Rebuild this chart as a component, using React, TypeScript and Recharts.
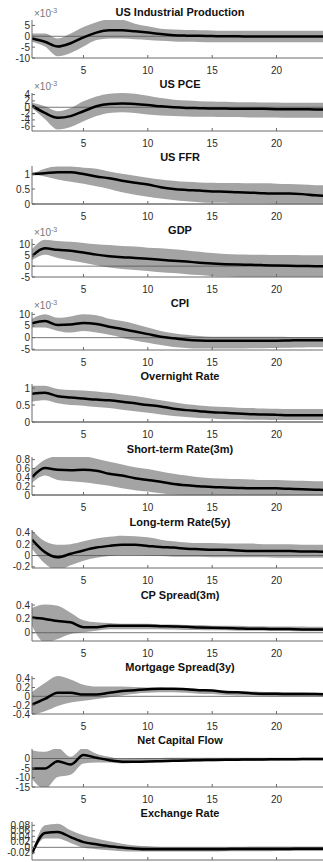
import { ComposedChart, Area, Line, XAxis, YAxis, ReferenceLine } from 'recharts'

// impulse-response horizon (quarters)
const horizon = [1, 2, 3, 4, 5, 6, 7, 8, 9, 10, 11, 12, 13, 14, 15, 16, 17, 18, 19, 20, 21, 22, 23, 24]
const xTicks = [5, 10, 15, 20]

// US Industrial Production (x1e-3)
const ipMid = [-1.0, -2.5, -4.7, -3.2, -0.5, 1.7, 2.8, 2.8, 2.3, 1.7, 1.0, 0.5, 0.3, 0.2, 0.1, 0.0, 0.0, -0.1, -0.1, -0.1, -0.1, -0.1, -0.1, -0.1]
const ipHi = [1.3, 1.3, -1.0, 1.3, 4.3, 6.5, 7.8, 7.6, 5.8, 4.6, 3.5, 3.1, 2.9, 2.8, 2.7, 2.6, 2.6, 2.5, 2.5, 2.5, 2.5, 2.5, 2.5, 2.5]
const ipLo = [-2.5, -4.7, -9.2, -7.7, -4.7, -1.7, -1.0, -1.0, -1.4, -1.7, -2.1, -2.4, -2.5, -2.6, -2.7, -2.7, -2.8, -2.8, -2.8, -2.8, -2.8, -2.8, -2.8, -2.8]

// US PCE (x1e-3)
const pceMid = [0.5, -1.8, -3.3, -2.8, -1.25, 0.3, 1.0, 1.15, 1.0, 0.7, 0.3, 0.0, -0.2, -0.3, -0.4, -0.4, -0.5, -0.5, -0.5, -0.6, -0.6, -0.6, -0.7, -0.7]
const pceHi = [1.4, 0.3, -1.25, -0.2, 1.9, 3.4, 4.3, 4.5, 4.3, 3.6, 2.9, 2.4, 2.1, 1.9, 1.8, 1.7, 1.6, 1.6, 1.5, 1.5, 1.4, 1.4, 1.4, 1.4]
const pceLo = [-0.2, -3.7, -7.0, -6.2, -4.4, -2.8, -1.8, -1.6, -1.8, -2.3, -2.6, -2.8, -2.9, -3.0, -3.0, -3.1, -3.1, -3.2, -3.2, -3.2, -3.3, -3.3, -3.3, -3.3]

// US FFR
const ffrMid = [1.0, 1.03, 1.06, 1.06, 1.0, 0.92, 0.86, 0.78, 0.71, 0.65, 0.56, 0.5, 0.47, 0.45, 0.42, 0.41, 0.39, 0.38, 0.36, 0.35, 0.35, 0.33, 0.29, 0.27]
const ffrHi = [1.0, 1.18, 1.25, 1.25, 1.21, 1.18, 1.09, 1.01, 0.94, 0.88, 0.82, 0.78, 0.74, 0.72, 0.71, 0.7, 0.7, 0.69, 0.69, 0.68, 0.67, 0.65, 0.63, 0.62]
const ffrLo = [1.0, 0.92, 0.82, 0.74, 0.68, 0.59, 0.5, 0.39, 0.31, 0.24, 0.18, 0.13, 0.09, 0.06, 0.04, 0.04, 0.03, 0.03, 0.03, 0.02, 0.02, 0.02, 0.02, 0.02]

// GDP (x1e-3)
const gdpMid = [4.6, 8.2, 7.5, 7.1, 6.3, 5.3, 4.6, 4.1, 3.8, 3.4, 2.9, 2.5, 2.1, 1.6, 1.2, 0.9, 0.7, 0.6, 0.45, 0.3, 0.15, 0.1, 0.0, 0.0]
const gdpHi = [7.8, 12.2, 11.6, 11.2, 10.7, 10.1, 9.7, 9.3, 9.0, 8.5, 8.2, 7.8, 7.2, 6.6, 6.0, 5.6, 5.4, 5.3, 5.2, 5.1, 5.1, 5.0, 5.0, 5.0]
const gdpLo = [2.8, 5.3, 3.8, 2.6, 1.6, 0.4, -0.6, -1.3, -1.8, -2.2, -2.8, -3.2, -3.7, -4.1, -4.6, -4.8, -5.0, -5.1, -5.2, -5.3, -5.3, -5.3, -5.3, -5.3]

// CPI (x1e-3)
const cpiMid = [6.2, 7.1, 5.4, 5.6, 6.3, 5.9, 4.7, 3.7, 2.6, 1.5, 0.4, -0.3, -0.9, -1.2, -1.3, -1.3, -1.3, -1.3, -1.3, -1.3, -1.2, -1.1, -1.1, -1.1]
const cpiHi = [8.1, 10.0, 8.5, 9.1, 10.0, 9.6, 8.1, 7.1, 5.9, 4.4, 2.9, 1.9, 1.2, 0.7, 0.4, 0.4, 0.4, 0.4, 0.4, 0.4, 0.3, 0.3, 0.3, 0.3]
const cpiLo = [4.4, 4.4, 2.9, 2.2, 2.9, 2.2, 1.2, 0.0, -1.2, -2.2, -3.2, -4.0, -4.4, -4.7, -4.7, -4.7, -4.7, -4.6, -4.5, -4.4, -4.3, -4.2, -4.1, -4.1]

// Overnight Rate
const onMid = [0.83, 0.86, 0.76, 0.72, 0.69, 0.66, 0.64, 0.6, 0.55, 0.5, 0.46, 0.39, 0.35, 0.32, 0.29, 0.27, 0.25, 0.23, 0.22, 0.21, 0.2, 0.2, 0.2, 0.2]
const onHi = [1.07, 1.07, 0.97, 0.94, 0.93, 0.9, 0.86, 0.81, 0.77, 0.71, 0.64, 0.58, 0.52, 0.49, 0.46, 0.44, 0.42, 0.41, 0.4, 0.39, 0.38, 0.38, 0.38, 0.38]
const onLo = [0.6, 0.64, 0.55, 0.5, 0.48, 0.44, 0.41, 0.36, 0.32, 0.27, 0.22, 0.18, 0.15, 0.12, 0.1, 0.08, 0.08, 0.07, 0.07, 0.06, 0.06, 0.06, 0.06, 0.06]

// Short-term Rate(3m)
const strMid = [0.4, 0.61, 0.57, 0.56, 0.57, 0.55, 0.48, 0.44, 0.38, 0.34, 0.3, 0.25, 0.22, 0.2, 0.18, 0.17, 0.16, 0.15, 0.15, 0.15, 0.14, 0.13, 0.12, 0.11]
const strHi = [0.57, 0.8, 0.88, 0.9, 0.88, 0.82, 0.75, 0.69, 0.63, 0.59, 0.53, 0.48, 0.44, 0.4, 0.38, 0.37, 0.36, 0.35, 0.34, 0.34, 0.33, 0.32, 0.31, 0.31]
const strLo = [0.27, 0.44, 0.34, 0.31, 0.29, 0.25, 0.21, 0.15, 0.11, 0.08, 0.04, 0.01, 0.0, -0.01, -0.01, -0.01, -0.01, -0.01, -0.01, -0.01, -0.01, -0.01, -0.01, -0.01]

// Long-term Rate(5y)
const ltrMid = [0.28, 0.06, -0.03, 0.03, 0.09, 0.14, 0.17, 0.19, 0.19, 0.17, 0.15, 0.14, 0.12, 0.11, 0.1, 0.1, 0.09, 0.08, 0.08, 0.08, 0.08, 0.07, 0.07, 0.065]
const ltrHi = [0.45, 0.25, 0.19, 0.2, 0.25, 0.3, 0.33, 0.35, 0.34, 0.32, 0.28, 0.25, 0.23, 0.22, 0.22, 0.21, 0.21, 0.21, 0.2, 0.2, 0.2, 0.19, 0.19, 0.19]
const ltrLo = [0.12, -0.14, -0.26, -0.17, -0.09, -0.04, -0.01, 0.01, 0.01, 0.0, -0.01, -0.02, -0.02, -0.02, -0.03, -0.03, -0.03, -0.03, -0.03, -0.04, -0.04, -0.04, -0.04, -0.04]

// CP Spread(3m)
const cpsMid = [0.22, 0.2, 0.17, 0.15, 0.08, 0.08, 0.1, 0.1, 0.1, 0.1, 0.095, 0.09, 0.085, 0.076, 0.07, 0.067, 0.062, 0.057, 0.057, 0.052, 0.052, 0.048, 0.048, 0.048]
const cpsHi = [0.36, 0.41, 0.39, 0.29, 0.18, 0.15, 0.14, 0.13, 0.13, 0.13, 0.12, 0.12, 0.11, 0.11, 0.1, 0.1, 0.1, 0.095, 0.095, 0.09, 0.09, 0.09, 0.086, 0.086]
const cpsLo = [0.1, -0.14, -0.09, -0.02, 0.005, 0.03, 0.05, 0.05, 0.05, 0.05, 0.05, 0.045, 0.04, 0.04, 0.035, 0.035, 0.03, 0.03, 0.03, 0.025, 0.025, 0.02, 0.02, 0.02]

// Mortgage Spread(3y)
const msMid = [-0.19, -0.06, 0.08, 0.08, 0.04, 0.04, 0.08, 0.12, 0.14, 0.16, 0.17, 0.17, 0.16, 0.14, 0.13, 0.1, 0.09, 0.07, 0.06, 0.06, 0.05, 0.05, 0.05, 0.04]
const msHi = [0.1, 0.3, 0.46, 0.38, 0.26, 0.22, 0.22, 0.22, 0.21, 0.2, 0.2, 0.18, 0.18, 0.16, 0.14, 0.13, 0.12, 0.11, 0.1, 0.1, 0.09, 0.09, 0.08, 0.08]
const msLo = [-0.42, -0.34, -0.22, -0.14, -0.1, -0.06, -0.02, 0.02, 0.06, 0.08, 0.09, 0.09, 0.08, 0.06, 0.05, 0.03, 0.02, 0.02, 0.01, 0.0, 0.0, 0.0, 0.0, 0.0]

// Net Capital Flow
const ncfMid = [-5.3, -5.3, -1.4, -3.2, 1.8, 0.4, -0.9, -1.7, -1.7, -1.6, -1.4, -1.2, -1.0, -0.9, -0.8, -0.7, -0.6, -0.5, -0.5, -0.4, -0.4, -0.3, -0.3, -0.3]
const ncfHi = [4.4, 3.5, 5.5, 0.9, 5.5, 2.5, 0.9, -0.3, 0.0, 0.2, 0.3, 0.4, 0.4, 0.4, 0.4, 0.4, 0.4, 0.4, 0.4, 0.4, 0.4, 0.4, 0.4, 0.4]
const ncfLo = [-10.6, -16, -9.7, -8.5, -2.6, -2.1, -2.1, -2.6, -2.2, -2.1, -1.9, -1.7, -1.7, -1.5, -1.5, -1.3, -1.3, -1.3, -1.2, -1.2, -1.1, -1.0, -1.0, -1.0]

// Exchange Rate
const fxMid = [-0.023, 0.052, 0.056, 0.037, 0.019, 0.011, 0.004, -0.001, -0.005, -0.007, -0.007, -0.007, -0.007, -0.007, -0.007, -0.007, -0.006, -0.006, -0.006, -0.006, -0.006, -0.005, -0.005, -0.005]
const fxHi = [-0.02, 0.08, 0.086, 0.062, 0.044, 0.032, 0.022, 0.013, 0.007, 0.004, 0.001, 0.001, 0.001, 0.001, 0.001, 0.001, 0.001, 0.002, 0.002, 0.002, 0.002, 0.002, 0.002, 0.002]
const fxLo = [-0.026, 0.032, 0.032, 0.016, -0.001, -0.007, -0.011, -0.014, -0.015, -0.015, -0.015, -0.015, -0.015, -0.015, -0.015, -0.014, -0.014, -0.014, -0.014, -0.013, -0.013, -0.013, -0.013, -0.013]

type Panel = {
  title: string
  mid: number[]
  lo: number[]
  hi: number[]
  domain: [number, number]
  ticks: number[]
  exp?: boolean
}

const panels: Panel[] = [
  { title: 'US Industrial Production', mid: ipMid, lo: ipLo, hi: ipHi, domain: [-10, 7.5], ticks: [-10, -5, 0, 5], exp: true },
  { title: 'US PCE', mid: pceMid, lo: pceLo, hi: pceHi, domain: [-7.5, 4.5], ticks: [-6, -4, -2, 0, 2, 4], exp: true },
  { title: 'US FFR', mid: ffrMid, lo: ffrLo, hi: ffrHi, domain: [0, 1.27], ticks: [0, 0.5, 1] },
  { title: 'GDP', mid: gdpMid, lo: gdpLo, hi: gdpHi, domain: [-5, 12.5], ticks: [-5, 0, 5, 10], exp: true },
  { title: 'CPI', mid: cpiMid, lo: cpiLo, hi: cpiHi, domain: [-5.3, 11], ticks: [-5, 0, 5, 10], exp: true },
  { title: 'Overnight Rate', mid: onMid, lo: onLo, hi: onHi, domain: [0, 1.12], ticks: [0, 0.5, 1] },
  { title: 'Short-term Rate(3m)', mid: strMid, lo: strLo, hi: strHi, domain: [0, 0.86], ticks: [0, 0.2, 0.4, 0.6, 0.8] },
  { title: 'Long-term Rate(5y)', mid: ltrMid, lo: ltrLo, hi: ltrHi, domain: [-0.22, 0.45], ticks: [-0.2, 0, 0.2, 0.4] },
  { title: 'CP Spread(3m)', mid: cpsMid, lo: cpsLo, hi: cpsHi, domain: [-0.12, 0.43], ticks: [0, 0.2, 0.4] },
  { title: 'Mortgage Spread(3y)', mid: msMid, lo: msLo, hi: msHi, domain: [-0.4, 0.46], ticks: [-0.4, -0.2, 0, 0.2, 0.4] },
  { title: 'Net Capital Flow', mid: ncfMid, lo: ncfLo, hi: ncfHi, domain: [-15, 5], ticks: [-15, -10, -5, 0] },
  { title: 'Exchange Rate', mid: fxMid, lo: fxLo, hi: fxHi, domain: [-0.046, 0.092], ticks: [-0.02, 0, 0.02, 0.04, 0.06, 0.08] },
]

const FONT = '"Liberation Sans", Arial, Helvetica, sans-serif'
const AXIS = '#6a6a6a'
const TEXT = '#2b2b2b'
const BAND = '#a4a4a4'

const FIRST_TOP = 20
const STEP = 72.88
const PLOT_H = 38
const M_TOP = 3
const X_AXIS_H = 18
const CHART_W = 336
const Y_AXIS_W = 32

function BottomTick(props: any) {
  const { x, y, payload } = props
  return (
    <g>
      <line x1={x} x2={x} y1={y} y2={y - 3} stroke={AXIS} strokeWidth={1} />
      <text x={x} y={y + 15.5} textAnchor="middle" fontSize={10} fontFamily={FONT} fill={TEXT}>
        {payload.value}
      </text>
    </g>
  )
}

function TopTick(props: any) {
  const { x, y } = props
  return <line x1={x} x2={x} y1={y} y2={y + 3} stroke={AXIS} strokeWidth={1} />
}

function LeftTick(props: any) {
  const { x, y, payload } = props
  return (
    <g>
      <line x1={x} x2={x + 3} y1={y} y2={y} stroke={AXIS} strokeWidth={1} />
      <text x={x - 2} y={y} textAnchor="end" dominantBaseline="central" fontSize={10} fontFamily={FONT} fill={TEXT}>
        {payload.value}
      </text>
    </g>
  )
}

function IrfPanel({ p, top }: { p: Panel; top: number }) {
  const data = horizon.map((t, i) => ({ t, mid: p.mid[i], band: [p.lo[i], p.hi[i]] }))
  return (
    <>
      <div
        style={{
          position: 'absolute',
          left: Y_AXIS_W,
          width: CHART_W - Y_AXIS_W - 8,
          top: top - 14.5,
          textAlign: 'center',
          font: `bold 11px ${FONT}`,
          lineHeight: '12px',
          color: '#111',
          whiteSpace: 'nowrap',
        }}
      >
        {p.title}
      </div>
      {p.exp && (
        <div
          style={{
            position: 'absolute',
            left: 34,
            top: top - 15,
            font: `10px ${FONT}`,
            lineHeight: '12px',
            color: '#777',
          }}
        >
          ×10<sup style={{ fontSize: 7, verticalAlign: 4 }}>-3</sup>
        </div>
      )}
      <div style={{ position: 'absolute', left: 0, top: top - M_TOP }}>
        <ComposedChart
          width={CHART_W}
          height={M_TOP + PLOT_H + X_AXIS_H}
          data={data}
          margin={{ top: M_TOP, right: 8, bottom: 0, left: 0 }}
        >
          <XAxis
            dataKey="t"
            type="number"
            domain={[1, 24]}
            ticks={xTicks}
            allowDataOverflow
            height={X_AXIS_H}
            tickSize={0}
            tickMargin={0}
            tickLine={false}
            stroke={AXIS}
            tick={<BottomTick />}
          />
          <XAxis
            xAxisId="top"
            orientation="top"
            dataKey="t"
            type="number"
            domain={[1, 24]}
            ticks={xTicks}
            allowDataOverflow
            height={0}
            tickSize={0}
            tickMargin={0}
            tickLine={false}
            stroke={AXIS}
            tick={<TopTick />}
          />
          <YAxis
            type="number"
            domain={p.domain}
            ticks={p.ticks}
            allowDataOverflow
            width={Y_AXIS_W}
            tickSize={0}
            tickMargin={0}
            tickLine={false}
            stroke={AXIS}
            interval={0}
            tick={<LeftTick />}
          />
          <Area
            dataKey="band"
            type="monotone"
            stroke="none"
            fill={BAND}
            fillOpacity={1}
            isAnimationActive={false}
          />
          <ReferenceLine y={0} stroke="#555" strokeWidth={0.8} />
          <Line
            dataKey="mid"
            type="monotone"
            stroke="#000"
            strokeWidth={2.5}
            dot={false}
            isAnimationActive={false}
          />
        </ComposedChart>
      </div>
    </>
  )
}

export default function App() {
  return (
    <div
      style={{
        position: 'absolute',
        left: 0,
        top: 0,
        width: 323,
        height: 862,
        overflow: 'hidden',
        background: '#fff',
      }}
    >
      {panels.map((p, i) => (
        <IrfPanel key={p.title} p={p} top={FIRST_TOP + i * STEP} />
      ))}
    </div>
  )
}
